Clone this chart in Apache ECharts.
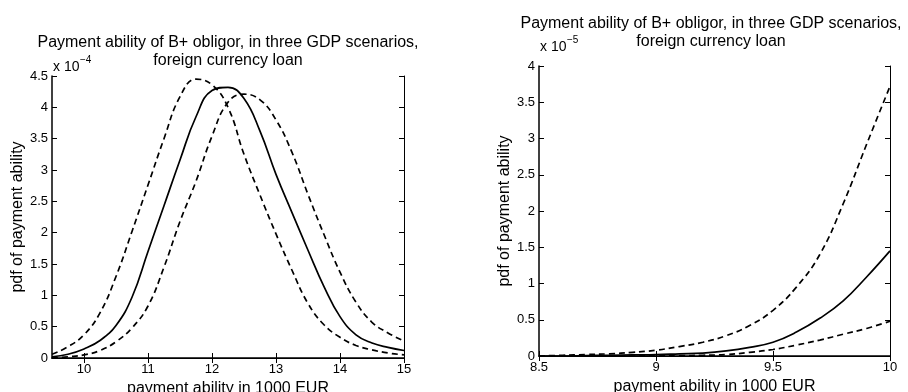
<!DOCTYPE html>
<html>
<head>
<meta charset="utf-8">
<script src="https://cdn.jsdelivr.net/npm/echarts@6/dist/echarts.min.js"></script>
<style>
  html, body { margin: 0; padding: 0; background: #fff; }
  #chart { width: 908px; height: 392px; }
</style>
</head>
<body>
<div id="chart"></div>
<script>
// Full view: payment ability 9.5–15 (thousand EUR), pdf in units of 1e-4
const fullX           = [9.5, 9.75, 10, 10.25, 10.5, 10.75, 11, 11.25, 11.5, 11.75, 12, 12.25, 12.5, 12.75, 13, 13.25, 13.5, 13.75, 14, 14.25, 14.5, 14.75, 15];
const fullPessimistic = [0.06, 0.18, 0.37, 0.72, 1.30, 2.02, 2.76, 3.50, 4.17, 4.45, 4.36, 4.00, 3.25, 2.60, 1.98, 1.40, 0.87, 0.53, 0.33, 0.20, 0.13, 0.08, 0.05];
const fullBaseline    = [0.02, 0.06, 0.145, 0.28, 0.52, 0.97, 1.70, 2.43, 3.16, 3.85, 4.27, 4.32, 4.14, 3.62, 2.93, 2.32, 1.72, 1.14, 0.66, 0.37, 0.24, 0.17, 0.12];
const fullOptimistic  = [0.00, 0.02, 0.05, 0.12, 0.26, 0.48, 0.83, 1.45, 2.18, 2.82, 3.54, 4.08, 4.21, 4.12, 3.80, 3.28, 2.61, 1.97, 1.37, 0.89, 0.57, 0.40, 0.27];
const fullXTicks = [10, 11, 12, 13, 14, 15];

// Left tail: payment ability 8.5–10, pdf in units of 1e-5
const tailX           = [8.5, 8.6, 8.7, 8.8, 8.9, 9.0, 9.1, 9.2, 9.3, 9.4, 9.5, 9.6, 9.7, 9.8, 9.9, 10.0];
const tailPessimistic = [0.00, 0.01, 0.02, 0.03, 0.05, 0.08, 0.13, 0.19, 0.28, 0.42, 0.63, 0.95, 1.40, 2.10, 2.92, 3.72];
const tailBaseline    = [0.00, 0.00, 0.005, 0.01, 0.015, 0.02, 0.03, 0.04, 0.07, 0.12, 0.19, 0.33, 0.52, 0.76, 1.09, 1.45];
const tailOptimistic  = [0.00, 0.00, 0.00, 0.00, 0.00, 0.005, 0.005, 0.01, 0.02, 0.05, 0.09, 0.15, 0.22, 0.30, 0.38, 0.48];

const titleText = 'Payment ability of B+ obligor, in three GDP scenarios,\nforeign currency loan';
const xName = 'payment ability in 1000 EUR';
const yName = 'pdf of payment ability';

const FONT = '"Liberation Sans", Arial, Helvetica, sans-serif';
const grids = [
  { left: 52, top: 76, width: 352, height: 282 },
  { left: 539, top: 66, width: 351, height: 290 }
];

const zip = (xs, ys) => xs.map((x, i) => [x, ys[i]]);

function lineSeries(idx, name, xs, ys, dashed) {
  return {
    type: 'line', name: name,
    xAxisIndex: idx * 2, yAxisIndex: idx * 2,
    data: zip(xs, ys),
    showSymbol: false, smooth: 0.45, clip: true,
    lineStyle: { color: '#000', width: 1.7, type: dashed ? [6, 4] : 'solid' },
    z: 3
  };
}

const tickStyle = { show: true, inside: true, length: 5, lineStyle: { color: '#000', width: 1 } };
const labelStyle = { color: '#000', fontSize: 13, fontFamily: FONT };
const nameStyle = { color: '#000', fontSize: 16, fontFamily: FONT };

function xAxes(idx, min, max, opts) {
  const bottom = {
    type: 'value', gridIndex: idx, position: 'bottom', min: min, max: max,
    name: xName, nameLocation: 'middle', nameGap: opts.nameGap, nameTextStyle: nameStyle,
    axisLine: { show: true, lineStyle: { color: '#000', width: 1.5 } },
    axisTick: Object.assign({}, tickStyle, opts.tick || {}),
    axisLabel: Object.assign({}, labelStyle, { margin: 5 }, opts.label || {}),
    splitLine: { show: false }
  };
  if (opts.interval) bottom.interval = opts.interval;
  const top = {
    type: 'value', gridIndex: idx, position: 'top', min: min, max: max,
    axisLine: { show: true, lineStyle: { color: '#000', width: 1 } },
    axisTick: Object.assign({}, tickStyle, opts.tick || {}),
    axisLabel: { show: false },
    splitLine: { show: false }
  };
  if (opts.interval) top.interval = opts.interval;
  return [bottom, top];
}

function yAxes(idx, max) {
  return [
    {
      type: 'value', gridIndex: idx, position: 'left', min: 0, max: max, interval: 0.5,
      name: yName, nameLocation: 'middle', nameGap: 23, nameTextStyle: nameStyle,
      axisLine: { show: true, lineStyle: { color: '#000', width: 1.5 } },
      axisTick: tickStyle,
      axisLabel: Object.assign({}, labelStyle, { margin: 4 }),
      splitLine: { show: false }
    },
    {
      type: 'value', gridIndex: idx, position: 'right', min: 0, max: max, interval: 0.5,
      axisLine: { show: true, lineStyle: { color: '#000', width: 1 } },
      axisTick: tickStyle,
      axisLabel: { show: false },
      splitLine: { show: false }
    }
  ];
}

function titleGraphics(cx, topY, lh) {
  return {
    type: 'text', x: cx, y: topY,
    style: {
      text: titleText, align: 'center', verticalAlign: 'top',
      fontSize: 16, fontFamily: FONT, lineHeight: lh, fill: '#000'
    }
  };
}

// "x 10" multiplier with its exponent; y values are text bottoms in pixels
function exponentGraphics(g, exp, bottomY, expBottomY) {
  return [
    {
      type: 'text', x: g.left + 1, y: bottomY,
      style: { text: 'x 10', align: 'left', verticalAlign: 'bottom', fontSize: 14, fontFamily: FONT, fill: '#000' }
    },
    {
      type: 'text', x: g.left + 28, y: expBottomY,
      style: { text: exp, align: 'left', verticalAlign: 'bottom', fontSize: 10, fontFamily: FONT, fill: '#000' }
    }
  ];
}

const chart = echarts.init(document.getElementById('chart'), null, { renderer: 'canvas' });
chart.setOption({
  backgroundColor: '#fff',
  animation: false,
  grid: grids.map(g => Object.assign({ containLabel: false, outerBoundsMode: 'none', show: false }, g)),
  xAxis: [
    ...xAxes(0, 9.5, 15, { nameGap: 19, tick: { customValues: fullXTicks }, label: { customValues: fullXTicks } }),
    ...xAxes(1, 8.5, 10, { nameGap: 18, interval: 0.5 })
  ],
  yAxis: [
    ...yAxes(0, 4.5),
    ...yAxes(1, 4)
  ],
  graphic: [
    titleGraphics(grids[0].left + grids[0].width / 2, 34, 17.5),
    titleGraphics(711, 15, 18),
    ...exponentGraphics(grids[0], '\u22124', 74, 65),
    ...exponentGraphics(grids[1], '\u22125', 54, 45)
  ],
  series: [
    lineSeries(0, 'pessimistic', fullX, fullPessimistic, true),
    lineSeries(0, 'baseline', fullX, fullBaseline, false),
    lineSeries(0, 'optimistic', fullX, fullOptimistic, true),
    lineSeries(1, 'pessimistic', tailX, tailPessimistic, true),
    lineSeries(1, 'baseline', tailX, tailBaseline, false),
    lineSeries(1, 'optimistic', tailX, tailOptimistic, true)
  ]
});
</script>
</body>
</html>
